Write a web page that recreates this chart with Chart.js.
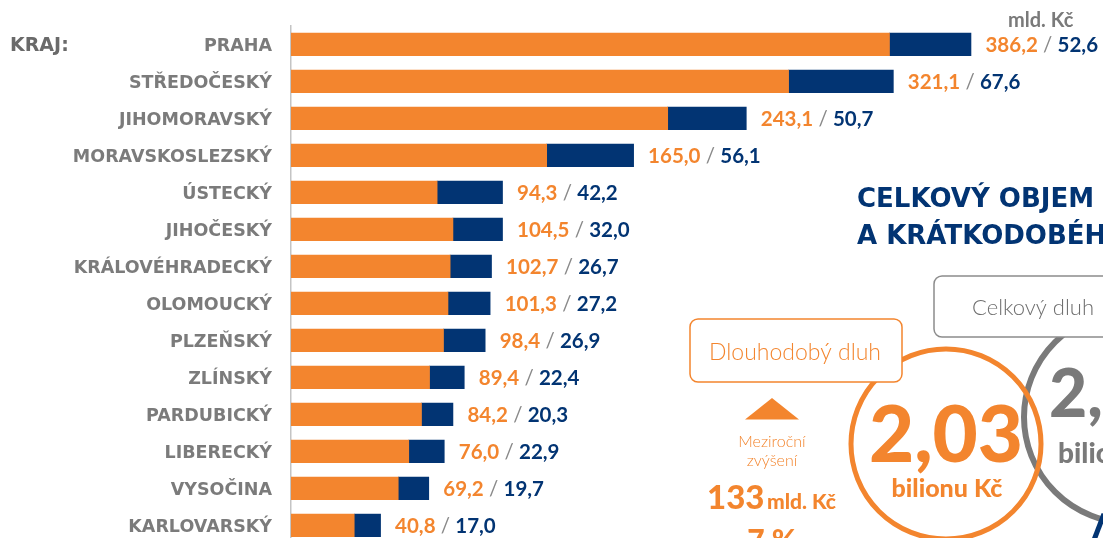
<!DOCTYPE html>
<html lang="cs">
<head>
<meta charset="utf-8">
<title>Dluh krajů</title>
<script src="https://cdn.jsdelivr.net/npm/chart.js@4.4.1/dist/chart.umd.min.js"></script>
<style>
  html, body { margin: 0; padding: 0; background: #fff; overflow: hidden; }
  #wrap { width: 1103px; height: 538px; overflow: hidden; }
  canvas { display: block; }
</style>
</head>
<body>
<div id="wrap"><canvas id="debtChart" width="1103" height="560"></canvas></div>
<script>
// kraje a jejich dluh (mld. Kč): dlouhodobý / krátkodobý
const regions = ['PRAHA', 'STŘEDOČESKÝ', 'JIHOMORAVSKÝ', 'MORAVSKOSLEZSKÝ', 'ÚSTECKÝ', 'JIHOČESKÝ',
  'KRÁLOVÉHRADECKÝ', 'OLOMOUCKÝ', 'PLZEŇSKÝ', 'ZLÍNSKÝ', 'PARDUBICKÝ', 'LIBERECKÝ', 'VYSOČINA', 'KARLOVARSKÝ'];
const longTermDebt = [386.2, 321.1, 243.1, 165.0, 94.3, 104.5, 102.7, 101.3, 98.4, 89.4, 84.2, 76.0, 69.2, 40.8];
const shortTermDebt = [52.6, 67.6, 50.7, 56.1, 42.2, 32.0, 26.7, 27.2, 26.9, 22.4, 20.3, 22.9, 19.7, 17.0];

const axisTitle = 'KRAJ:';
const unitLabel = 'mld. Kč';
const titleLines = ['CELKOVÝ OBJEM DLOUHODOBÉHO', 'A KRÁTKODOBÉHO DLUHU'];
const longBoxText = 'Dlouhodobý dluh';
const totalBoxText = 'Celkový dluh';
const longTotal = '2,03';
const totalPartial = '2,';
const trillionUnit = 'bilionu Kč';
const growthLines = ['Meziroční', 'zvýšení'];
const growthValue = '133';
const growthPercent = '7 %';

const ORANGE = '#f3852e';
const NAVY = '#023473';
const GREY = '#7a7a7a';

const fmt = v => v.toFixed(1).replace('.', ',');

const valueLabels = {
  id: 'valueLabels',
  afterDatasetsDraw(chart) {
    const { ctx, scales: { x, y } } = chart;
    ctx.save();
    ctx.textBaseline = 'alphabetic';
    ctx.textAlign = 'left';
    regions.forEach((name, i) => {
      let px = x.getPixelForValue(longTermDebt[i] + shortTermDebt[i]) + 14.5;
      const py = y.getPixelForValue(i) + 8;
      ctx.font = 'bold 20.5px Lato';
      ctx.fillStyle = ORANGE;
      const a = fmt(longTermDebt[i]);
      ctx.fillText(a, px, py);
      px += ctx.measureText(a).width;
      ctx.font = '20.5px Lato';
      ctx.fillStyle = '#8a8a8a';
      ctx.fillText(' / ', px, py);
      px += ctx.measureText(' / ').width;
      ctx.font = 'bold 20.5px Lato';
      ctx.fillStyle = NAVY;
      ctx.fillText(fmt(shortTermDebt[i]), px, py);
    });

    // jednotka nad sloupci
    ctx.font = 'bold 20px Lato';
    ctx.fillStyle = GREY;
    ctx.fillText(unitLabel, 1008, 27);

    // popisek osy
    ctx.font = 'bold 19px "DejaVu Sans"';
    ctx.fillStyle = '#6a6a6a';
    ctx.textBaseline = 'middle';
    ctx.fillText(axisTitle, 10, y.getPixelForValue(0) + 2);
    ctx.restore();
  }
};

const infographic = {
  id: 'infographic',
  afterDraw(chart) {
    const ctx = chart.ctx;
    ctx.save();

    // nadpis
    ctx.font = 'bold 26px "DejaVu Sans"';
    ctx.fillStyle = NAVY;
    ctx.textAlign = 'left';
    ctx.fillText(titleLines[0], 857, 207);
    ctx.fillText(titleLines[1], 857, 244);

    // kruhy
    ctx.lineWidth = 6;
    ctx.strokeStyle = GREY;
    ctx.beginPath();
    ctx.arc(1130, 417, 106, 0, Math.PI * 2);
    ctx.stroke();

    ctx.lineWidth = 5;
    ctx.strokeStyle = ORANGE;
    ctx.beginPath();
    ctx.arc(946, 444, 95, 0, Math.PI * 2);
    ctx.stroke();

    // rámečky
    ctx.lineWidth = 1.5;
    ctx.fillStyle = '#fff';
    ctx.strokeStyle = '#8c8c8c';
    ctx.beginPath();
    ctx.roundRect(934, 276, 220, 61, 8);
    ctx.fill();
    ctx.stroke();

    ctx.strokeStyle = ORANGE;
    ctx.beginPath();
    ctx.roundRect(690, 319, 212, 63, 8);
    ctx.fill();
    ctx.stroke();

    ctx.font = '300 22px Lato';
    ctx.fillStyle = '#6e6e6e';
    ctx.fillText(totalBoxText, 972, 315);

    ctx.textAlign = 'center';
    ctx.fillStyle = ORANGE;
    ctx.font = '300 23px Lato';
    ctx.fillText(longBoxText, 795, 360);

    // dlouhodobý dluh
    ctx.font = '900 78px Lato';
    ctx.fillText(longTotal, 946, 462);
    ctx.font = '900 25px Lato';
    ctx.fillText(trillionUnit, 947, 497);

    // celkový dluh (useknutý)
    ctx.textAlign = 'left';
    ctx.fillStyle = GREY;
    ctx.font = '900 66px Lato';
    ctx.fillText(totalPartial, 1049, 417);
    ctx.font = '900 28px Lato';
    ctx.fillText(trillionUnit, 1058, 463);

    // meziroční zvýšení
    ctx.fillStyle = ORANGE;
    ctx.beginPath();
    ctx.moveTo(772, 398);
    ctx.lineTo(799, 419.5);
    ctx.lineTo(745, 419.5);
    ctx.closePath();
    ctx.fill();

    ctx.textAlign = 'center';
    ctx.font = '300 16px Lato';
    ctx.fillText(growthLines[0], 772, 447);
    ctx.fillText(growthLines[1], 772, 466);

    ctx.textAlign = 'left';
    ctx.font = '900 33px Lato';
    ctx.fillText(growthValue, 707, 509);
    ctx.font = '900 21px Lato';
    ctx.fillText(unitLabel, 767, 509);
    ctx.textAlign = 'center';
    ctx.font = '900 30px Lato';
    ctx.fillText(growthPercent, 772, 551);

    // kousek tmavě modrého prvku vpravo dole
    ctx.strokeStyle = NAVY;
    ctx.lineWidth = 5;
    ctx.beginPath();
    ctx.moveTo(1094, 540);
    ctx.lineTo(1104, 514);
    ctx.stroke();

    ctx.restore();
  }
};

new Chart(document.getElementById('debtChart').getContext('2d'), {
  type: 'bar',
  data: {
    labels: regions,
    datasets: [
      { label: 'Dlouhodobý dluh', data: longTermDebt, backgroundColor: ORANGE },
      { label: 'Krátkodobý dluh', data: shortTermDebt, backgroundColor: NAVY }
    ]
  },
  options: {
    indexAxis: 'y',
    responsive: false,
    animation: false,
    layout: { padding: { top: 25.9, bottom: 16.1, left: 0, right: 0 } },
    datasets: { bar: { barThickness: 22.6, borderWidth: 0 } },
    plugins: { legend: { display: false }, tooltip: { enabled: false } },
    scales: {
      x: { stacked: true, display: false, min: 0, max: 524 },
      y: {
        stacked: true,
        afterFit(scale) {
          scale.width = 291;
          scale.paddingTop = 0;
          scale.paddingBottom = 0;
        },
        grid: { display: false, drawTicks: false },
        border: { display: true, color: '#c4c4c4', width: 1.5 },
        ticks: {
          padding: 19,
          labelOffset: 2,
          color: '#7b7b7b',
          font: { family: 'DejaVu Sans', weight: 'bold', size: 17.5 }
        }
      }
    }
  },
  plugins: [valueLabels, infographic]
});
</script>
</body>
</html>
